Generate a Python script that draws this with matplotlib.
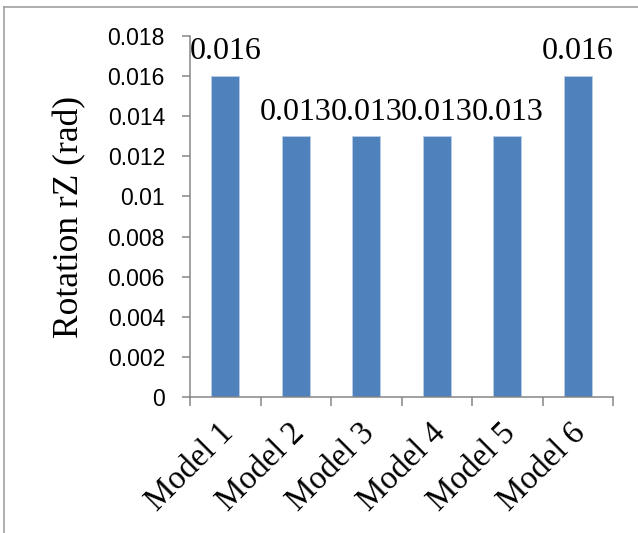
import numpy as np
import matplotlib.pyplot as plt
from matplotlib.lines import Line2D

models = ['Model 1', 'Model 2', 'Model 3', 'Model 4', 'Model 5', 'Model 6']
rotation_rz = [0.016, 0.013, 0.013, 0.013, 0.013, 0.016]
y_ticks = [0, 0.002, 0.004, 0.006, 0.008, 0.01, 0.012, 0.014, 0.016, 0.018]
y_tick_labels = ['0', '0.002', '0.004', '0.006', '0.008', '0.01', '0.012', '0.014', '0.016', '0.018']

SERIF = 'Liberation Serif'
SANS = 'Liberation Sans'
GRAY = '#868686'
BAR = '#4F81BD'

fig = plt.figure(figsize=(6.38, 5.33), dpi=100)
ax = fig.add_axes([190 / 638, 1 - 397 / 533, (613 - 190) / 638, (397 - 36) / 533])

x = np.arange(len(models))
ax.bar(x, rotation_rz, width=0.4, color=BAR, edgecolor='#b9cde5', linewidth=0.6, zorder=2)

for xi, v in zip(x, rotation_rz):
    ax.annotate(f"{v:g}", (xi, v), xytext=(0, 7), textcoords='offset points',
                ha='center', va='bottom', fontsize=23, family=SERIF)

ax.set_xlim(-0.5, len(models) - 0.5)
ax.set_ylim(0, 0.018)

ax.set_yticks(y_ticks)
ax.set_yticklabels(y_tick_labels, family=SANS, fontsize=16.5)
ax.tick_params(axis='y', direction='out', length=6, width=1.1, color=GRAY, pad=12)

ax.set_xticks(x + 0.05)
ax.set_xticklabels(models, family=SERIF, fontsize=23.5, rotation=45,
                   ha='right', va='center', rotation_mode='anchor')
ax.tick_params(axis='x', which='major', length=0, pad=23)
ax.set_xticks(np.arange(len(models) + 1) - 0.5, minor=True)
ax.tick_params(axis='x', which='minor', direction='out', length=6.5, width=1.1, color=GRAY)

for side in ['top', 'right']:
    ax.spines[side].set_visible(False)
for side in ['left', 'bottom']:
    ax.spines[side].set_color(GRAY)
    ax.spines[side].set_linewidth(1.1)

ax.set_ylabel('Rotation rZ (rad)', family=SERIF, fontsize=25.5)
ax.yaxis.set_label_coords(-0.245, 0.5)

# outer frame (only top and left visible in the crop)
fig.add_artist(Line2D([4 / 638, 1], [1 - 7 / 533, 1 - 7 / 533], color='#999999', lw=1.1))
fig.add_artist(Line2D([4 / 638, 4 / 638], [0, 1 - 7 / 533], color='#999999', lw=1.1))

fig.savefig('out.png', dpi=100)
